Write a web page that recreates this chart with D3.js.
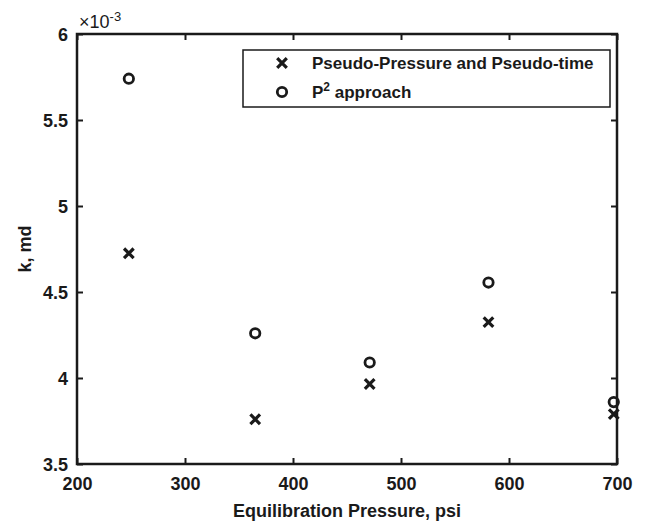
<!DOCTYPE html>
<html><head><meta charset="utf-8">
<script src="https://cdn.jsdelivr.net/npm/d3@7"></script>
<style>body{margin:0;background:#fff}svg{display:block}text{font-family:"Liberation Sans",Arial,sans-serif}</style>
</head><body><svg id="c" width="648" height="521"></svg>
<script>
const pressures = [248, 365, 471, 581, 697];
const pseudoK = [4.725e-3, 3.76e-3, 3.965e-3, 4.325e-3, 3.79e-3];
const p2K = [5.74e-3, 4.26e-3, 4.09e-3, 4.555e-3, 3.86e-3];
const xTicks = [200, 300, 400, 500, 600, 700];
const yTicks = [3.5e-3, 4e-3, 4.5e-3, 5e-3, 5.5e-3, 6e-3];
const seriesNames = ["Pseudo-Pressure and Pseudo-time", "P² approach"];

const svg = d3.select("#c");
const L = 77, R = 617, T = 34, B = 464;
const x = d3.scaleLinear().domain([200, 700]).range([L, R]);
const y = d3.scaleLinear().domain([3.5e-3, 6e-3]).range([B, T]);
const col = "#1a1a1a";

const fmtY = d => d3.format("~g")(+(d * 1000).toFixed(3));
const gx = svg.append("g").attr("transform", `translate(0,${B})`)
  .call(d3.axisBottom(x).tickValues(xTicks).tickSize(-6).tickPadding(13).tickFormat(d3.format("d")));
const gxt = svg.append("g").attr("transform", `translate(0,${T})`)
  .call(d3.axisTop(x).tickValues(xTicks).tickSize(-6).tickFormat(""));
const gy = svg.append("g").attr("transform", `translate(${L},0)`)
  .call(d3.axisLeft(y).tickValues(yTicks).tickSize(-6).tickPadding(9).tickFormat(fmtY));
const gyr = svg.append("g").attr("transform", `translate(${R},0)`)
  .call(d3.axisRight(y).tickValues(yTicks).tickSize(-6).tickFormat(""));
[gx, gxt, gy, gyr].forEach(g => {
  g.select(".domain").remove();
  g.selectAll(".tick line").attr("stroke", col).attr("stroke-width", 2);
  g.selectAll(".tick text").attr("fill", col).attr("font-size", 18).attr("font-weight", "bold");
});
gy.selectAll(".tick text").attr("dy", "0.35em");
svg.append("rect").attr("x", L).attr("y", T).attr("width", R - L).attr("height", B - T)
  .attr("fill", "none").attr("stroke", col).attr("stroke-width", 2.5);

// multiplier
const m = svg.append("text").attr("x", 79).attr("y", 28).attr("font-size", 18).attr("fill", col);
m.append("tspan").text("×10");
m.append("tspan").attr("dy", -7).attr("font-size", 13).text("-3");

// axis labels
svg.append("text").attr("x", (L + R) / 2).attr("y", 517).attr("text-anchor", "middle")
  .attr("font-size", 18).attr("font-weight", "bold").attr("fill", col).text("Equilibration Pressure, psi");
svg.append("text").attr("transform", `translate(31,${(T + B) / 2}) rotate(-90)`).attr("text-anchor", "middle")
  .attr("font-size", 18).attr("font-weight", "bold").attr("fill", col).text("k, md");

function cross(g, cx, cy) {
  const s = 4.8;
  g.append("path").attr("d", `M${cx - s},${cy - s}L${cx + s},${cy + s}M${cx - s},${cy + s}L${cx + s},${cy - s}`)
    .attr("stroke", col).attr("stroke-width", 3.2).attr("fill", "none");
}
function circ(g, cx, cy) {
  g.append("circle").attr("cx", cx).attr("cy", cy).attr("r", 4.7)
    .attr("stroke", col).attr("stroke-width", 2.8).attr("fill", "none");
}
const pts = svg.append("g");
pressures.forEach((p, i) => { cross(pts, x(p), y(pseudoK[i])); circ(pts, x(p), y(p2K[i])); });

// legend
const lg = svg.append("g");
lg.append("rect").attr("x", 243).attr("y", 50).attr("width", 367).attr("height", 57)
  .attr("fill", "#fff").attr("stroke", col).attr("stroke-width", 1.5);
cross(lg, 282, 63);
circ(lg, 282, 92);
lg.append("text").attr("x", 312).attr("y", 69).attr("font-size", 17).attr("font-weight", "bold").attr("fill", col).text(seriesNames[0]);
const t2 = lg.append("text").attr("x", 312).attr("y", 98).attr("font-size", 17).attr("font-weight", "bold").attr("fill", col);
t2.append("tspan").text("P");
t2.append("tspan").attr("dy", -7).attr("font-size", 12).text("2");
t2.append("tspan").attr("dy", 7).text(" approach");
</script></body></html>
